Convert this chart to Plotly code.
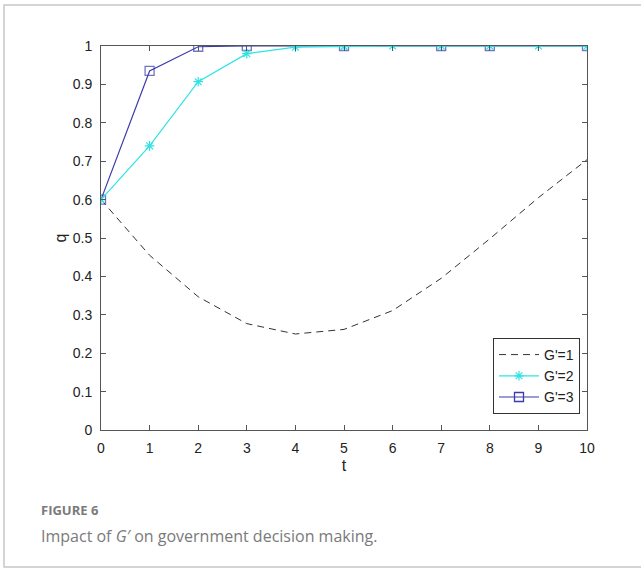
import plotly.graph_objects as go

t = list(range(11))
q_g1 = [0.6, 0.455, 0.347, 0.277, 0.25, 0.262, 0.311, 0.395, 0.498, 0.605, 0.704]
q_g2 = [0.6, 0.74, 0.907, 0.98, 0.997, 0.999, 1.0, 1.0, 1.0, 1.0, 1.0]
q_g3 = [0.6, 0.935, 0.998, 1.0, 1.0, 1.0, 1.0, 1.0, 1.0, 1.0, 1.0]
g3_marker_shown = [1, 1, 1, 1, 0, 1, 0, 1, 1, 0, 1]

y_ticks = [0, 0.1, 0.2, 0.3, 0.4, 0.5, 0.6, 0.7, 0.8, 0.9, 1]
y_tick_text = ["0", "0.1", "0.2", "0.3", "0.4", "0.5", "0.6", "0.7", "0.8", "0.9", "1"]

FONT = "Liberation Sans, Arial, sans-serif"
BLUE = "#3b3bab"
CYAN = "#2fe3e3"

fig = go.Figure()
fig.add_trace(go.Scatter(
    x=t, y=q_g1, mode="lines", name="G'=1",
    line=dict(color="#333333", width=1, dash="7px,5px"),
))
fig.add_trace(go.Scatter(
    x=t, y=q_g3, mode="lines+markers", name="G'=3",
    line=dict(color=BLUE, width=1.2),
    marker=dict(symbol="square-open", size=[9 if s else 0 for s in g3_marker_shown],
                color=BLUE, line=dict(width=1.3, color=BLUE)),
    showlegend=False,
))
fig.add_trace(go.Scatter(
    x=t, y=q_g2, mode="lines+markers", name="G'=2",
    line=dict(color=CYAN, width=1.2),
    marker=dict(symbol="asterisk-open", size=8, color=CYAN,
                line=dict(width=1.2, color=CYAN)),
))
fig.add_trace(go.Scatter(
    x=[None], y=[None], mode="lines+markers", name="G'=3",
    line=dict(color=BLUE, width=1.2),
    marker=dict(symbol="square-open", size=9, color=BLUE,
                line=dict(width=1.3, color=BLUE)),
))

axis_common = dict(
    showgrid=False, zeroline=False, showline=True, linecolor="#555555",
    linewidth=1, mirror="ticks", ticks="inside", ticklen=5, tickcolor="#555555",
    ticklabelstandoff=5,
    tickfont=dict(family=FONT, size=14, color="#222222"),
)

fig.update_layout(
    width=641, height=568,
    margin=dict(l=101, r=54, t=46, b=138),
    paper_bgcolor="white", plot_bgcolor="white",
    xaxis=dict(range=[0, 10], tickvals=t, title=dict(text="t", standoff=5,
               font=dict(family=FONT, size=16, color="#222222")),
               **axis_common),
    yaxis=dict(range=[0, 1], tickvals=y_ticks, ticktext=y_tick_text,
               title=dict(text="q", standoff=2,
               font=dict(family=FONT, size=16, color="#222222")),
               **axis_common),
    legend=dict(x=0.9856, xanchor="right", y=0.2396, yanchor="top",
                bordercolor="#333333", borderwidth=1, bgcolor="white",
                font=dict(family=FONT, size=14, color="#222222"),
                tracegroupgap=0, itemwidth=40, entrywidth=86),
    showlegend=True,
    shapes=[dict(type="rect", xref="paper", yref="paper",
                 x0=(4 - 101) / 486, x1=1.2, y0=(430 - 567) / 384, y1=(430 - 5) / 384,
                 line=dict(color="#c8c8c8", width=1.5), fillcolor="rgba(0,0,0,0)", layer="below")],
    annotations=[
        dict(text="<b>FIGURE 6</b>", xref="paper", yref="paper",
             x=(39 - 101) / 486, y=(430 - 510) / 384, xanchor="left", yanchor="middle",
             showarrow=False, font=dict(family="Open Sans, sans-serif", size=13, color="#7a7a7a")),
        dict(text="Impact of <i>G′</i> on government decision making.", xref="paper", yref="paper",
             x=(39 - 101) / 486, y=(430 - 536) / 384, xanchor="left", yanchor="middle",
             showarrow=False, font=dict(family="Open Sans, sans-serif", size=16, color="#7a7a7a")),
    ],
)

fig.write_html("out.html", config={"displayModeBar": False},
               post_script="document.body.style.margin='0';document.body.style.overflow='hidden';")
